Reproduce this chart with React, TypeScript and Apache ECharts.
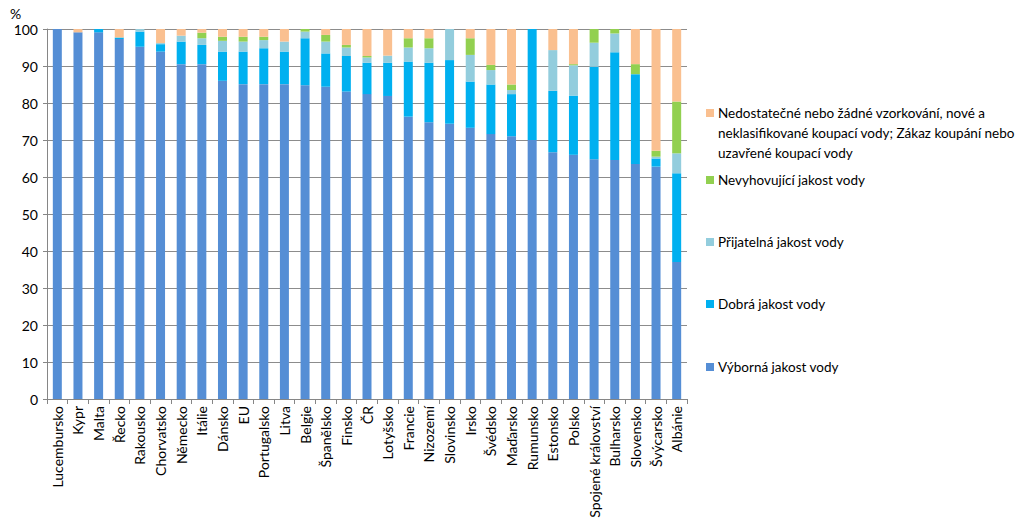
import React, { useEffect, useRef } from "react";
import * as echarts from "echarts";

const categories = [
  "Lucembursko", "Kypr", "Malta", "Řecko", "Rakousko", "Chorvatsko", "Německo", "Itálie",
  "Dánsko", "EU", "Portugalsko", "Litva", "Belgie", "Španělsko", "Finsko", "ČR",
  "Lotyšsko", "Francie", "Nizozemí", "Slovinsko", "Irsko", "Švédsko", "Maďarsko",
  "Rumunsko", "Estonsko", "Polsko", "Spojené království", "Bulharsko", "Slovensko",
  "Švýcarsko", "Albánie",
];

const excellent = [100, 99.1, 99.1, 97.3, 95.2, 93.9, 90.5, 90.5, 86, 85.1, 85.1, 85.1, 84.8, 84.4, 83.1, 82.4, 81.9, 76.3, 74.8, 74.4, 73.3, 71.6, 71, 70, 66.7, 66, 64.8, 64.6, 63.5, 62.8, 37];
const good = [0, 0, 0.9, 0.4, 4.1, 2, 6.1, 5.2, 7.9, 8.8, 9.7, 8.8, 12.7, 9, 9.6, 8.5, 9, 14.9, 16.1, 17.2, 12.5, 13.4, 11.4, 30, 16.6, 16, 25, 29.1, 24.3, 2.2, 24];
const sufficient = [0, 0, 0, 0, 0.7, 0.3, 1.6, 1.8, 2.9, 2.7, 2.2, 2.7, 1.8, 3.2, 2.3, 1.4, 1.9, 3.8, 3.9, 8.4, 7.2, 3.9, 1.1, 0, 11, 8.2, 6.5, 5.1, 0, 0.5, 5.4];
const poor = [0, 0, 0, 0, 0, 0, 0, 1.5, 1.1, 1.3, 0.9, 0, 0.7, 1.8, 0.7, 0.4, 0, 2.5, 2.7, 0, 4.5, 1.4, 1.5, 0, 0, 0.3, 3.7, 1.2, 2.7, 1.6, 14];
const other = [0, 0.9, 0, 2.3, 0, 3.8, 1.8, 1.0, 2.1, 2.1, 2.1, 3.4, 0, 1.6, 4.3, 7.3, 7.1, 2.5, 2.5, 0, 2.5, 9.7, 15, 0, 5.7, 9.5, 0, 0, 9.5, 32.9, 19.6];

const seriesNames = [
  "Výborná jakost vody",
  "Dobrá jakost vody",
  "Přijatelná jakost vody",
  "Nevyhovující jakost vody",
  "Nedostatečné nebo žádné vzorkování, nové a\nneklasifikované koupací vody; Zákaz koupání nebo\nuzavřené koupací vody",
];
const seriesData = [excellent, good, sufficient, poor, other];
const colors = ["#558ED5", "#00B0F0", "#93CDDD", "#92D050", "#FAC090"];

const FONT = "Lato, 'Open Sans', sans-serif";

// legend rows top position (orange, green, light blue, blue, dark blue)
const legendTops = [103, 170, 232, 294, 357];

export default function App() {
  const ref = useRef<HTMLDivElement>(null);

  useEffect(() => {
    if (!ref.current) return;
    const chart = echarts.init(ref.current, undefined, { renderer: "svg" });

    const legendGraphics: any[] = [];
    const order = [4, 3, 2, 1, 0];
    order.forEach((si, k) => {
      const top = legendTops[k];
      legendGraphics.push({
        type: "rect",
        shape: { x: 706, y: top + 6, width: 8, height: 8 },
        style: { fill: colors[si] },
      });
      legendGraphics.push({
        type: "text",
        x: 718,
        y: top,
        style: {
          text: seriesNames[si],
          font: `13.5px ${FONT}`,
          fill: "#000",
          lineHeight: 20,
          textVerticalAlign: "top",
        },
      });
    });

    chart.setOption({
      animation: false,
      textStyle: { fontFamily: FONT },
      grid: { left: 47, right: 337, top: 29, bottom: 130, containLabel: false },
      xAxis: {
        type: "category",
        data: categories,
        axisLine: { lineStyle: { color: "#868686" } },
        axisTick: { show: true, length: 5, lineStyle: { color: "#868686" } },
        axisLabel: {
          rotate: 90,
          interval: 0,
          fontSize: 14,
          color: "#000",
          fontFamily: FONT,
          margin: 7,
        },
      },
      yAxis: {
        type: "value",
        min: 0,
        max: 100,
        interval: 10,
        axisLine: { show: true, lineStyle: { color: "#868686" } },
        axisTick: { show: true, length: 4, lineStyle: { color: "#868686" } },
        splitLine: { lineStyle: { color: "#8c8c8c", width: 1 } },
        axisLabel: { fontSize: 14, color: "#000", fontFamily: FONT, margin: 9 },
      },
      series: seriesData.map((d, i) => ({
        name: seriesNames[i],
        type: "bar",
        stack: "total",
        data: d,
        barWidth: 9,
        itemStyle: { color: colors[i] },
      })),
      graphic: [
        {
          type: "text",
          x: 10,
          y: 6,
          style: { text: "%", font: `14px ${FONT}`, fill: "#000" },
        },
        ...legendGraphics,
      ],
    });

    return () => chart.dispose();
  }, []);

  return (
    <div
      ref={ref}
      style={{ position: "fixed", left: 0, top: 0, width: 1024, height: 529, background: "#fff" }}
    />
  );
}
